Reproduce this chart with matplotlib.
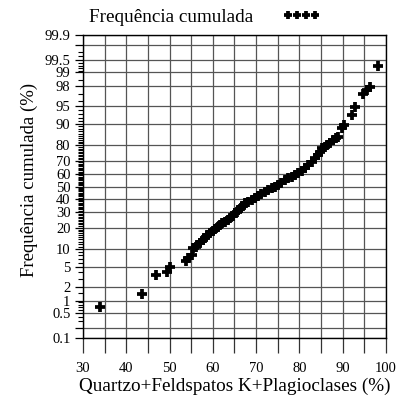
import math
import numpy as np
import matplotlib
matplotlib.use("Agg")
import matplotlib.pyplot as plt
from matplotlib.ticker import FixedLocator, FixedFormatter

plt.rcParams["font.family"] = ["Liberation Serif", "DejaVu Serif"]

# Quartzo + Feldspatos K + Plagioclases (%) and its cumulative frequency (%)
qfp = [33.9, 43.6, 46.9, 49.3, 50.1, 53.8, 54.3, 55.1, 55.5, 56.0,
       56.3, 57.0, 57.8, 58.2, 58.6, 59.3, 60.0, 60.5, 61.1, 61.6,
       62.2, 62.8, 63.4, 64.0, 64.6, 65.1, 65.5, 65.9, 66.5, 67.0,
       67.4, 68.2, 69.0, 69.7, 70.5, 71.2, 72.0, 72.8, 73.6, 74.3,
       75.1, 75.8, 76.6, 77.4, 78.2, 79.0, 79.7, 80.5, 81.3, 82.0,
       82.8, 83.5, 84.3, 84.7, 85.1, 85.8, 86.3, 87.0, 87.8, 88.4,
       89.0, 89.8, 90.4, 92.1, 92.9, 94.8, 95.5, 96.2, 98.2]
freq_cum = [0.68, 1.4, 3.5, 4.1, 5.0, 6.4, 7.1, 8.1, 10.4, 11.0,
            11.7, 12.6, 13.8, 14.8, 16.1, 17.3, 18.3, 19.2, 20.5, 21.6,
            22.6, 23.6, 24.7, 25.8, 27.5, 29.2, 30.4, 31.6, 33.0, 34.8,
            36.6, 37.8, 39.1, 40.7, 42.3, 44.0, 45.8, 47.1, 48.5, 49.8,
            51.2, 53.2, 55.3, 56.6, 57.9, 59.3, 60.6, 62.5, 64.5, 67.0,
            69.4, 71.7, 74.0, 76.0, 78.2, 79.2, 80.0, 81.5, 82.9, 83.7,
            84.5, 88.3, 89.5, 92.8, 94.8, 97.1, 97.6, 97.9, 99.3]

y_tick_values = [0.1, 0.2, 0.5, 1, 2, 5, 10, 20, 30, 40, 50, 60, 70, 80,
                 90, 95, 98, 99, 99.5, 99.8, 99.9]
y_tick_labels = ["0.1", "", "0.5", "1", "2", "5", "10", "20", "30", "40",
                 "50", "60", "70", "80", "90", "95", "98", "99", "99.5",
                 "", "99.9"]
x_tick_values = list(range(30, 101, 5))
x_tick_labels = [str(v) if v % 10 == 0 else "" for v in x_tick_values]


# --- normal probability scale (percent <-> standard normal quantile) ---
_A = [-3.969683028665376e+01, 2.209460984245205e+02, -2.759285104469687e+02,
      1.383577518672690e+02, -3.066479806614716e+01, 2.506628277459239e+00]
_B = [-5.447609879822406e+01, 1.615858368580409e+02, -1.556989798598866e+02,
      6.680131188771972e+01, -1.328068155288572e+01]
_C = [-7.784894002430293e-03, -3.223964580411365e-01, -2.400758277161838e+00,
      -2.549671010173132e+00, 4.374664141464968e+00, 2.938163982698783e+00]
_D = [7.784695709041462e-03, 3.224671290700398e-01, 2.445134137142996e+00,
      3.754408661907416e+00]


def _tail(q):
    num = ((((_C[0] * q + _C[1]) * q + _C[2]) * q + _C[3]) * q + _C[4]) * q + _C[5]
    den = (((_D[0] * q + _D[1]) * q + _D[2]) * q + _D[3]) * q + 1.0
    return num / den


def percent_to_z(pct):
    p = np.clip(np.asarray(pct, dtype=float) / 100.0, 1e-9, 1 - 1e-9)
    plow = 0.02425
    with np.errstate(all="ignore"):
        q = p - 0.5
        r = q * q
        central = (((((_A[0] * r + _A[1]) * r + _A[2]) * r + _A[3]) * r + _A[4]) * r + _A[5]) * q / \
                  (((((_B[0] * r + _B[1]) * r + _B[2]) * r + _B[3]) * r + _B[4]) * r + 1.0)
        lower = _tail(np.sqrt(-2.0 * np.log(p)))
        upper = -_tail(np.sqrt(-2.0 * np.log(1.0 - p)))
    return np.where(p < plow, lower, np.where(p > 1 - plow, upper, central))


_erf = np.vectorize(math.erf, otypes=[float])


def z_to_percent(z):
    z = np.asarray(z, dtype=float)
    return 50.0 * (1.0 + _erf(z / math.sqrt(2.0)))


# minor ticks of the probability axis
minor_y = ([0.3, 0.4, 0.6, 0.7, 0.8, 0.9, 1.5, 3, 4, 6, 7, 8, 9]
           + [v for v in range(11, 90) if v % 10 != 0]
           + [91, 92, 93, 94, 96, 97, 98.5, 99.1, 99.2, 99.3, 99.4, 99.6, 99.7])

fig = plt.figure(figsize=(4.03, 3.98), dpi=100)
ax = fig.add_axes([83 / 403, 1 - 338 / 398, 303 / 403, 303 / 398])

ax.set_yscale("function", functions=(percent_to_z, z_to_percent))
ax.set_ylim(0.1, 99.9)
ax.set_xlim(30, 100)

ax.plot(qfp, freq_cum, linestyle="none", marker="+", markersize=6.8,
        color="black", markeredgewidth=2.7, label="Frequência cumulada",
        zorder=3)

ax.yaxis.set_major_locator(FixedLocator(y_tick_values))
ax.yaxis.set_major_formatter(FixedFormatter(y_tick_labels))
ax.yaxis.set_minor_locator(FixedLocator(minor_y))
ax.yaxis.set_minor_formatter(FixedFormatter([""] * len(minor_y)))
ax.xaxis.set_major_locator(FixedLocator(x_tick_values))
ax.xaxis.set_major_formatter(FixedFormatter(x_tick_labels))

ax.grid(True, which="major", color="#555555", linewidth=0.9)
ax.tick_params(axis="x", which="major", direction="out", length=11,
               width=0.9, color="#333333", pad=6, labelsize=10.5)
ax.tick_params(axis="y", which="major", direction="out", length=6,
               width=0.9, pad=3, labelsize=10.5)
ax.tick_params(axis="y", which="minor", direction="out", length=3.5,
               width=0.8)
for s in ax.spines.values():
    s.set_linewidth(1.0)
    s.set_color("black")

ax.set_xlabel("Quartzo+Feldspatos K+Plagioclases (%)", fontsize=13.8,
              labelpad=2)
ax.set_ylabel("Frequência cumulada (%)", fontsize=13.5)
ax.yaxis.set_label_coords((38 - 83) / 303, (338 - 180) / 303)

ax.legend(loc="center", bbox_to_anchor=(205 / 403, 1 - 17 / 398),
          bbox_transform=fig.transFigure, frameon=False, numpoints=4,
          markerfirst=False, handlelength=2.0, handletextpad=1.5,
          fontsize=13.8, markerscale=0.9, borderaxespad=0)

fig.savefig("out.png", dpi=100)
